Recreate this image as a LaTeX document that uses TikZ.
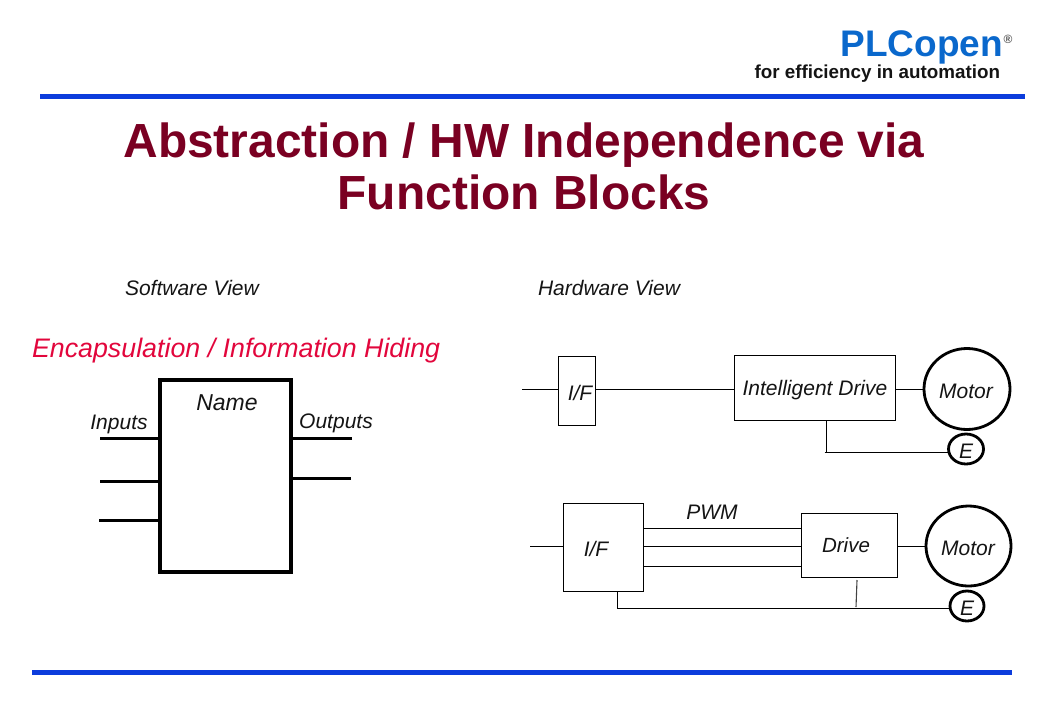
\documentclass[tikz,border=0pt]{standalone}
\usepackage{fontspec}
\setmainfont{Liberation Sans}
\usetikzlibrary{calc,shapes.geometric}
\definecolor{barblue}{HTML}{0C3CDC}
\definecolor{logoblue}{HTML}{0A68CC}
\definecolor{titlered}{HTML}{7A0022}
\definecolor{encred}{HTML}{E2063C}
\definecolor{txt}{HTML}{141414}
\newcommand{\fs}[1]{\fontsize{#1}{#1}\selectfont}
\tikzset{
  x=1pt,y=-1pt,
  every node/.style={inner sep=0pt,outer sep=0pt},
  bar/.style={draw=barblue,line width=5pt},
  lbl/.style={anchor=base,font=\fs{21}\itshape,text=txt},
  thinbox/.style={draw=black,line width=1pt,rectangle},
  motorshape/.style={draw=black,line width=2.8pt,ellipse},
  wire/.style={draw=black,line width=1.1pt},
  fbbox/.style={draw=black,line width=4.5pt,rectangle},
  fbwire/.style={draw=black,line width=3pt},
}
\begin{document}
\begin{tikzpicture}
\useasboundingbox (0,0) rectangle (1040,720);
% bars
\coordinate (t1) at (40,96); \coordinate (t2) at (1025,96);
\coordinate (b1) at (32,672); \coordinate (b2) at (1012,672);
\draw[bar] (t1) -- (t2);
\draw[bar] (b1) -- (b2);
% logo
\node[anchor=base east,font=\fs{37}\bfseries,text=logoblue] (logo) at (1003,56) {PLCopen};
\node[anchor=base,font=\fs{12}\bfseries,text=txt!70] (reg) at (1008,43) {®};
\node[anchor=base east,font=\fs{18.8}\bfseries,text=txt] (tag) at (1000,78) {for efficiency in automation};
% title
\node[anchor=base,font=\fs{47.9}\bfseries,text=titlered] (title1) at (524,157) {Abstraction / HW Independence via};
\node[anchor=base,font=\fs{47.9}\bfseries,text=titlered] (title2) at (524,209) {Function Blocks};
% headings
\node[lbl,anchor=base west] (sv) at (125,295) {Software View};
\node[lbl,anchor=base west] (hv) at (538,295) {Hardware View};
\node[anchor=base west,font=\fs{26.8}\itshape,text=encred] (enc) at (32,357) {Encapsulation / Information Hiding};
% function block
\node[fbbox,minimum width=131pt,minimum height=192pt] (fb) at (225.5,476) {};
\node[lbl,font=\fs{23}\itshape] (name) at (227,410) {Name};
\node[lbl] (inp) at (119,429) {Inputs};
\node[lbl] (outp) at (336,428) {Outputs};
\coordinate (i1) at (100,438.5); \coordinate (i2) at (100,481.5); \coordinate (i3) at (99,520.5);
\coordinate (o1) at (352,438.5); \coordinate (o2) at (351,478.5);
\draw[fbwire] (i1) -- (i1 -| fb.west);
\draw[fbwire] (i2) -- (i2 -| fb.west);
\draw[fbwire] (i3) -- (i3 -| fb.west);
\draw[fbwire] (o1) -- (o1 -| fb.east);
\draw[fbwire] (o2) -- (o2 -| fb.east);
% hardware top
\node[thinbox,minimum width=37pt,minimum height=69pt] (if1) at (576.5,390.5) {};
\node[thinbox,minimum width=161pt,minimum height=65pt] (id) at (814.5,387.5) {};
\node[motorshape,minimum width=86pt,minimum height=81pt] (m1) at (967,389) {};
\node[motorshape,minimum width=35pt,minimum height=30pt] (e1) at (966,449) {};
\node[lbl] (if1t) at (580,400) {I/F};
\node[lbl] (idt) at (815,395) {Intelligent Drive};
\node[lbl] (m1t) at (966,398) {Motor};
\node[lbl] (e1t) at (966,458) {E};
\coordinate (w1) at (522,389.5);
\coordinate (f1) at (826.5,452.5);
\draw[wire] (w1) -- (w1 -| if1.west);
\draw[wire] (w1 -| if1.east) -- (w1 -| id.west);
\draw[wire] (w1 -| id.east) -- (w1 -| m1.west);
\draw[wire] (f1 |- id.south) -- (f1);
\draw[wire] ([xshift=-2pt]f1) -- (f1 -| e1.west);
% hardware bottom
\node[thinbox,minimum width=80pt,minimum height=88pt] (if2) at (603,547) {};
\node[thinbox,minimum width=96pt,minimum height=64pt] (dr) at (849,545) {};
\node[motorshape,minimum width=85pt,minimum height=80pt] (m2) at (968.5,546) {};
\node[motorshape,minimum width=34pt,minimum height=30pt] (e2) at (967,606) {};
\node[lbl] (if2t) at (596,556) {I/F};
\node[lbl] (pwm) at (712,519) {PWM};
\node[lbl,font=\fs{20.5}\itshape] (drt) at (846,552) {Drive};
\node[lbl] (m2t) at (968,555) {Motor};
\node[lbl] (e2t) at (967,615) {E};
\coordinate (w2) at (530,546.5);
\coordinate (p1) at (700,528.5); \coordinate (p3) at (700,566.5);
\coordinate (f2) at (617.5,608.5);
\coordinate (tk1) at (857,580); \coordinate (tk2) at (856,607);
\draw[wire] (w2) -- (w2 -| if2.west);
\draw[wire] (p1 -| if2.east) -- (p1 -| dr.west);
\draw[wire] (w2 -| if2.east) -- (w2 -| dr.west);
\draw[wire] (p3 -| if2.east) -- (p3 -| dr.west);
\draw[wire] (w2 -| dr.east) -- (w2 -| m2.west);
\draw[wire] (f2 |- if2.south) -- (f2) -- (f2 -| e2.west);
\draw[wire,draw=txt!80] (tk1) -- (tk2);
\end{tikzpicture}
\end{document}
